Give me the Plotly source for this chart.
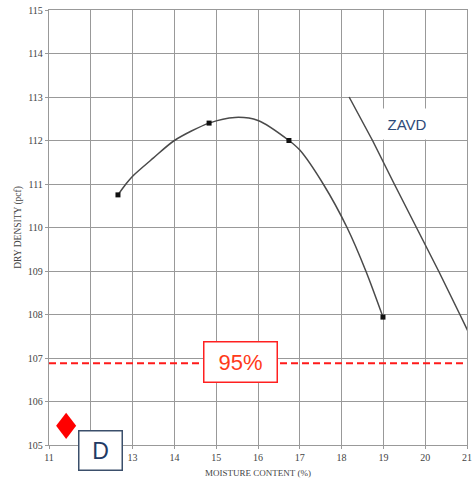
import plotly.graph_objects as go

# ---- data ----
moisture = [12.65, 14.83, 16.74, 18.99]          # test points, %
density = [110.75, 112.40, 112.00, 107.94]       # pcf

curve_x = [12.65, 12.84, 13.0, 13.5, 14.0, 14.83, 15.45, 16.0, 16.74, 17.0, 17.56, 18.13, 18.58, 18.99]
curve_y = [110.75, 111.0, 111.18, 111.6, 112.0, 112.40, 112.53, 112.46, 112.00, 111.78, 111.0, 110.0, 109.0, 107.94]

zavd_x = [18.18, 18.74, 19.26, 19.80, 20.32, 20.83, 21.02]
zavd_y = [113.0, 112.0, 111.0, 110.0, 109.0, 108.0, 107.62]

pct95_density = 106.88
d_point_x = 11.41
d_point_y = 105.44

x_ticks = list(range(11, 22))
y_ticks = list(range(105, 116))

# ---- figure ----
fig = go.Figure()

# red dashed 95% line
fig.add_trace(go.Scatter(x=[11, 21], y=[pct95_density, pct95_density], mode="lines",
                         line=dict(color="#ff1a1a", width=2, dash="7px,4px"),
                         hoverinfo="skip", showlegend=False))

# compaction curve
fig.add_trace(go.Scatter(x=curve_x, y=curve_y, mode="lines",
                         line=dict(color="#4a4a4a", width=1.5, shape="spline", smoothing=0.8),
                         hoverinfo="skip", showlegend=False))

# test points
fig.add_trace(go.Scatter(x=moisture, y=density, mode="markers",
                         marker=dict(symbol="square", size=5, color="#111111"),
                         showlegend=False))

# ZAVD line
fig.add_trace(go.Scatter(x=zavd_x, y=zavd_y, mode="lines",
                         line=dict(color="#4a4a4a", width=1.5),
                         hoverinfo="skip", showlegend=False))

# red diamond (polygon around the data point; half sizes in axis units)
hw, hh = 0.24, 0.30
fig.add_trace(go.Scatter(x=[d_point_x, d_point_x + hw, d_point_x, d_point_x - hw, d_point_x],
                         y=[d_point_y + hh, d_point_y, d_point_y - hh, d_point_y, d_point_y + hh],
                         mode="lines", fill="toself", fillcolor="#ff0000",
                         line=dict(color="#ff0000", width=0), hoverinfo="skip", showlegend=False))

serif = "Liberation Serif, Times New Roman, serif"
sans = "Liberation Sans, Arial, sans-serif"

fig.update_layout(
    width=472, height=485,
    margin=dict(l=49, r=5, t=10, b=40),
    paper_bgcolor="white", plot_bgcolor="white",
    xaxis=dict(range=[11, 21], tickvals=x_ticks, ticktext=[str(v) for v in x_ticks],
               showgrid=True, gridcolor="#999999", gridwidth=1.3,
               showline=True, linecolor="#999999", linewidth=1.3, mirror=True,
               ticks="outside", ticklen=3, tickcolor="#999999",
               tickfont=dict(family=serif, size=10, color="#444444"),
               title=dict(text="MOISTURE CONTENT (%)", font=dict(family=serif, size=9, color="#444444"),
                          standoff=7),
               automargin=False, zeroline=False, fixedrange=True),
    yaxis=dict(range=[105, 115], tickvals=y_ticks, ticktext=[str(v) for v in y_ticks],
               showgrid=True, gridcolor="#999999", gridwidth=1.3,
               showline=True, linecolor="#999999", linewidth=1.3, mirror=True,
               ticks="outside", ticklen=3, tickcolor="#999999",
               tickfont=dict(family=serif, size=10, color="#444444"),
               title=dict(text="DRY DENSITY (pcf)", font=dict(family=serif, size=9.5, color="#444444"),
                          standoff=4),
               automargin=False, zeroline=False, fixedrange=True),
    annotations=[
        dict(x=15.58, y=106.91, xref="x", yref="y", text="95%", showarrow=False,
             xanchor="center", yanchor="middle",
             font=dict(family=sans, size=22, color="#ff3a1a"),
             bgcolor="white", bordercolor="#ff2020", borderwidth=1.5, borderpad=1,
             width=70, height=37),
        dict(x=12.23, y=-0.0126, xref="x", yref="paper", text="D", showarrow=False,
             xanchor="center", yanchor="middle",
             font=dict(family=sans, size=23, color="#1f3a64"),
             bgcolor="white", bordercolor="#3b4f6b", borderwidth=1.5, borderpad=1,
             width=40, height=36),
        dict(x=19.56, y=112.38, xref="x", yref="y", text="ZAVD", showarrow=False,
             xanchor="center", yanchor="middle",
             font=dict(family=sans, size=15, color="#2e4a78"),
             bgcolor="white", borderpad=0, width=50, height=30),
    ],
)

# remove the page's default 8px body margin so the figure fills the window exactly
fig.write_html("out.html", config={"displayModeBar": False},
               post_script="document.body.style.margin='0';")
